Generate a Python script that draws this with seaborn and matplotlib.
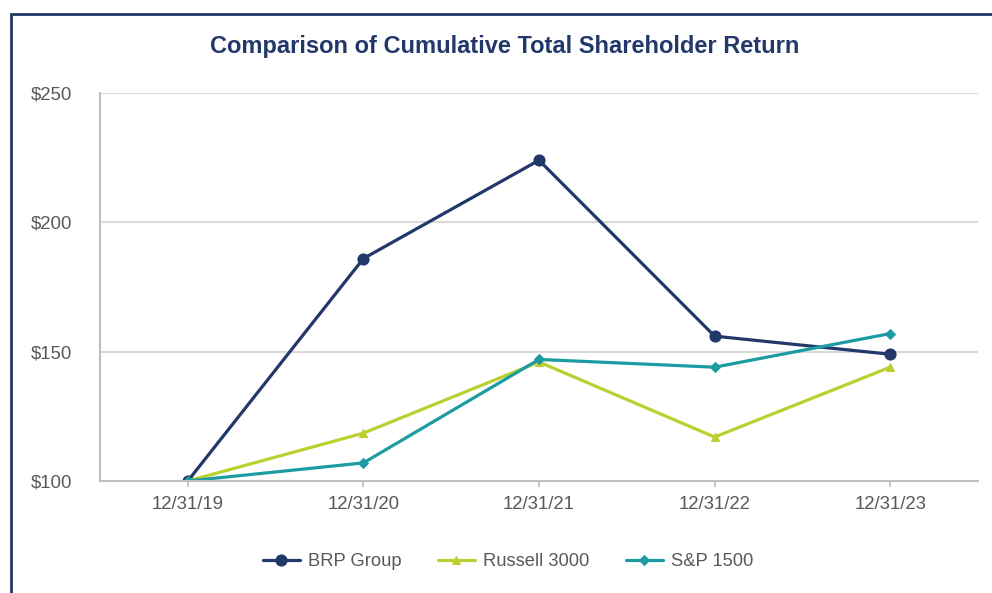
import matplotlib
matplotlib.use('Agg')
import matplotlib.pyplot as plt
from matplotlib.patches import Rectangle
import pandas as pd
import seaborn as sns

# data
dates = ['12/31/19', '12/31/20', '12/31/21', '12/31/22', '12/31/23']
brp_group = [100, 186, 224, 156, 149]
russell_3000 = [100, 118.5, 146, 117, 144]
sp_1500 = [100, 107, 147, 144, 157]

series = {'BRP Group': brp_group, 'Russell 3000': russell_3000, 'S&P 1500': sp_1500}
colors = {'BRP Group': '#22386a', 'Russell 3000': '#bccf31', 'S&P 1500': '#1c9ca2'}
markers = {'BRP Group': 'o', 'Russell 3000': '^', 'S&P 1500': 'D'}
msizes = {'BRP Group': 8, 'Russell 3000': 6, 'S&P 1500': 5}

frames = []
for name, vals in series.items():
    frames.append(pd.DataFrame({'date': dates, 'pos': range(len(dates)),
                                'value': vals, 'series': name}))
df = pd.concat(frames, ignore_index=True)

sns.set_style('white')
plt.rcParams['font.family'] = ['Liberation Sans', 'DejaVu Sans']

fig = plt.figure(figsize=(9.92, 5.93), dpi=100)
ax = fig.add_axes([100 / 992, 1 - 481 / 593, 878 / 992, 388 / 593])

for name in series:
    sub = df[df['series'] == name]
    sns.lineplot(data=sub, x='pos', y='value', ax=ax, color=colors[name],
                 marker=markers[name], markersize=msizes[name],
                 markeredgecolor=colors[name], linewidth=2.3, label=name)

ax.set_xlim(-0.5, len(dates) - 0.5)
ax.set_ylim(100, 250)
ax.set_xticks(range(len(dates)))
ax.set_xticklabels(dates)
ax.set_yticks([100, 150, 200, 250])
ax.set_yticklabels([f'${v}' for v in [100, 150, 200, 250]])
ax.set_xlabel('')
ax.set_ylabel('')
ax.grid(axis='y', color='#d9d9d9', linewidth=1.5)
ax.set_axisbelow(True)
for side in ['top', 'right']:
    ax.spines[side].set_visible(False)
for side in ['left', 'bottom']:
    ax.spines[side].set_color('#bfbfbf')
    ax.spines[side].set_linewidth(1.5)
ax.tick_params(axis='x', colors='#595959', labelsize=13.4, length=4,
               width=1.2, direction='out', pad=7, color='#bfbfbf')
ax.tick_params(axis='y', colors='#595959', labelsize=13.4, length=0, pad=20)
ax.xaxis.set_ticks_position('bottom')

fig.text(505 / 992, 1 - 46 / 593, 'Comparison of Cumulative Total Shareholder Return',
         ha='center', va='center', fontsize=17, fontweight='bold', color='#22386a')

ax.legend(loc='center', ncol=3, frameon=False,
          fontsize=13.2, labelcolor='#595959', handlelength=2.0,
          columnspacing=2.0, handletextpad=0.45)
leg = ax.get_legend()
leg.set_bbox_to_anchor((508 / 992, 1 - 562 / 593), transform=fig.transFigure)

# navy frame around the chart (runs off the right and bottom edges)
fig.patches.append(Rectangle((11 / 992, -0.1), 1.2, 1 - 14 / 593 + 0.1,
                             transform=fig.transFigure, fill=False,
                             edgecolor='#22386a', linewidth=2))

fig.savefig('out.png', dpi=100)
